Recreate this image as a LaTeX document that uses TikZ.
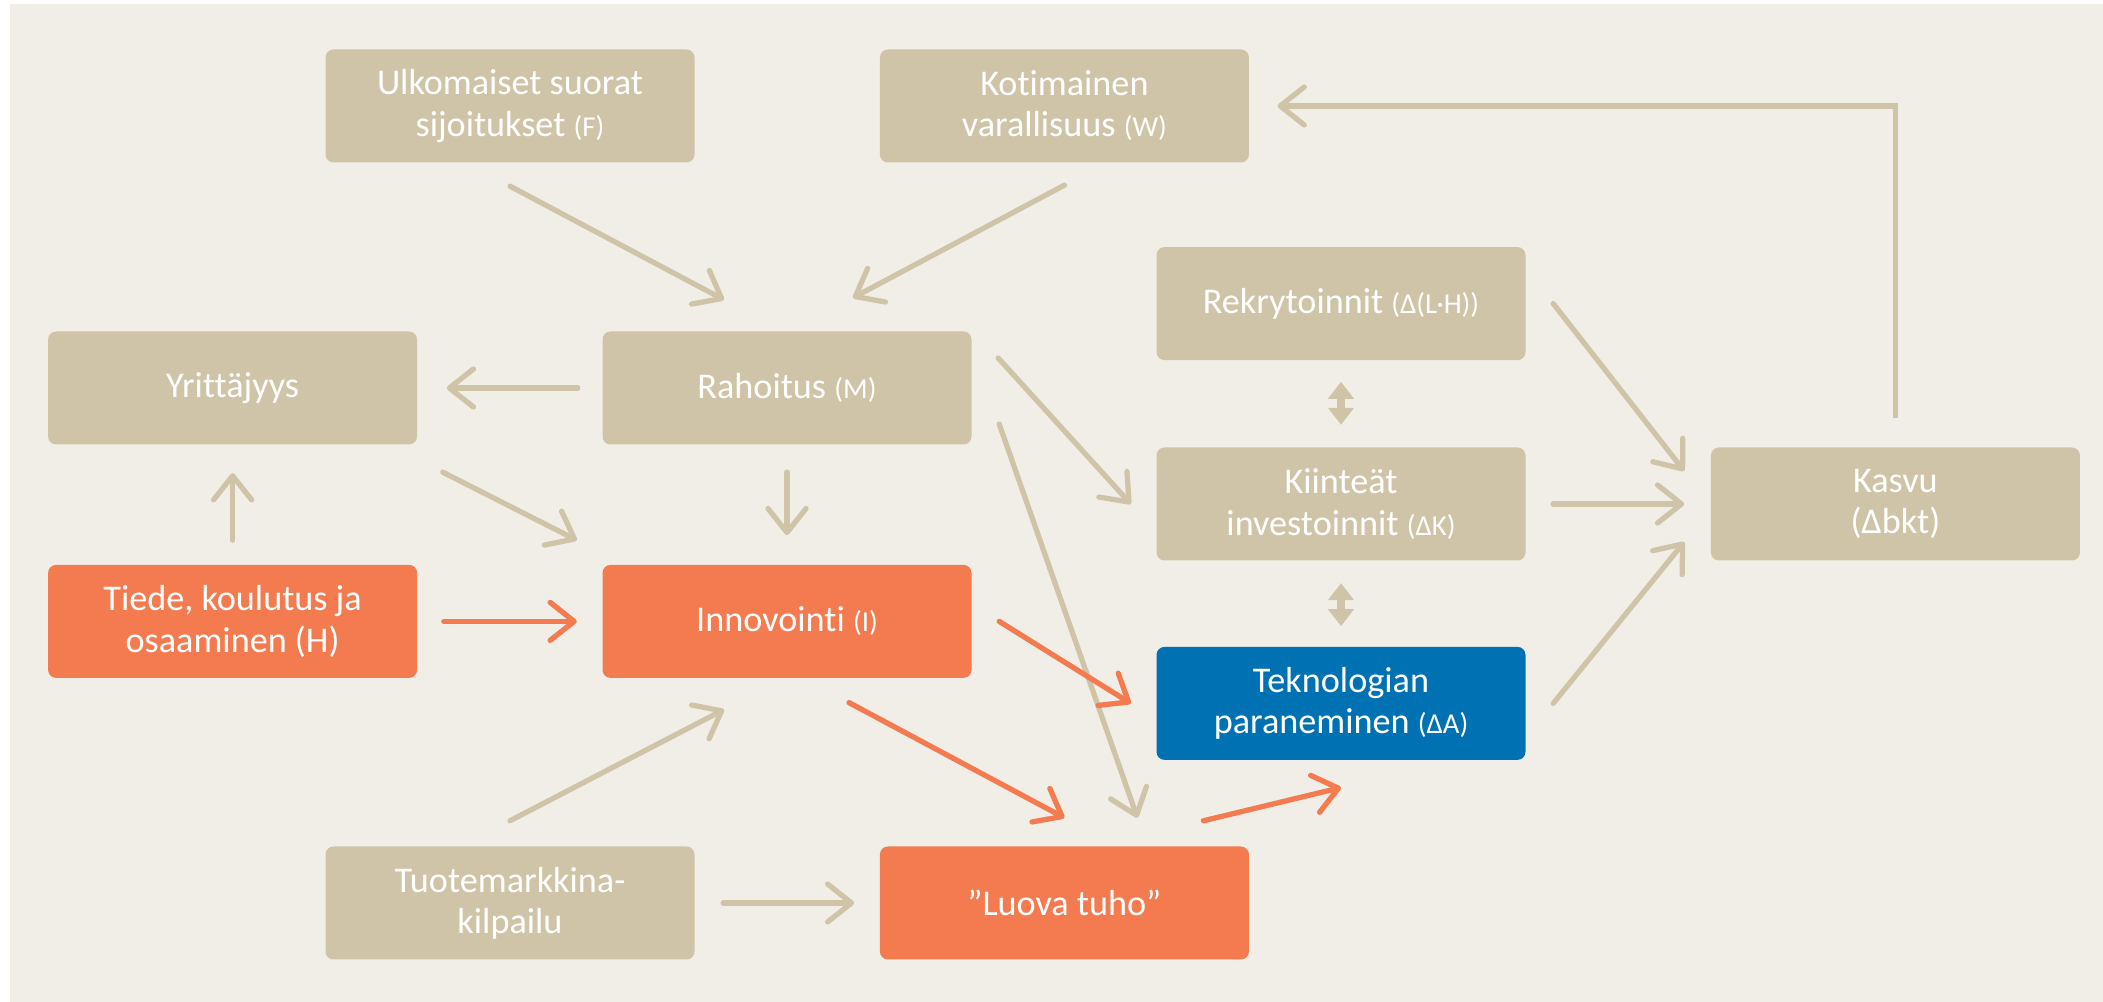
\documentclass[tikz,border=0pt]{standalone}
\usepackage{fontspec}
\setmainfont{Carlito}[Ligatures=NoCommon]
\usetikzlibrary{arrows.meta,positioning,calc}
\definecolor{cbg}{HTML}{F1EEE7}
\definecolor{cbeige}{HTML}{CFC4A8}
\definecolor{corange}{HTML}{F47B50}
\definecolor{cblue}{HTML}{0072B3}
\newcommand{\pv}[1]{{\fontsize{8.2}{10}\selectfont #1}}
\tikzset{
  gbox/.style={rounded corners=0.8mm, align=center, inner sep=0pt,
               minimum width=3.69cm, minimum height=1.13cm, text=white,
               font=\fontsize{10.3}{11.7}\selectfont},
  nbeige/.style={gbox, fill=cbeige},
  norange/.style={gbox, fill=corange},
  nblue/.style={gbox, fill=cblue},
  flow/.style={-{Straight Barb[length=2.4mm,width=3.8mm,round]}, line width=1.5pt,
               line cap=round, draw=cbeige},
  flowo/.style={flow, draw=corange},
  flowb/.style={{Triangle[length=1.7mm,width=2.5mm]}-{Triangle[length=1.7mm,width=2.5mm]},
                line width=2.2pt, draw=cbeige},
}
\begin{document}
\begin{tikzpicture}
  \useasboundingbox (0,0) rectangle (21.03,10.02);
  \fill[cbg] (0.10,0) rectangle (21.03,9.98);
  % left part
  \node[nbeige] (rah) at (7.87,6.14) {Rahoitus \pv{(M)}};
  \node[nbeige, left=1.84cm of rah] (yrit) {Yrittäjyys};
  \node[norange, below=1.19cm of rah] (innov) {Innovointi \pv{(I)}};
  \node[norange, left=1.84cm of innov] (tiede) {Tiede, koulutus ja\\osaaminen (H)};
  \node[nbeige] (f) at (5.10,8.96) {Ulkomaiset suorat\\sijoitukset \pv{(F)}};
  \node[nbeige, right=1.84cm of f] (w) {Kotimainen\\varallisuus \pv{(W)}};
  \node[nbeige] (tuote) at (5.10,0.99) {Tuotemarkkina-\\kilpailu};
  \node[norange, right=1.84cm of tuote] (luova) {”Luova tuho”};
  % right part
  \node[nbeige] (kiint) at (13.41,4.98) {Kiinteät\\investoinnit \pv{(ΔK)}};
  \node[nbeige, above=0.86cm of kiint] (rekry) {Rekrytoinnit \pv{(Δ(L·H))}};
  \node[nblue, below=0.85cm of kiint] (tekno) {Teknologian\\paraneminen \pv{(ΔA)}};
  \node[nbeige, right=1.84cm of kiint] (kasvu) {Kasvu\\(Δbkt)};
  % connectors
  \draw[flow] ([yshift=-0.23cm]f.south) -- ([shift={(-0.63,0.31)}]rah.north);
  \draw[flow] ([yshift=-0.22cm]w.south) -- ([shift={(0.66,0.33)}]rah.north);
  \draw[flow] ([xshift=-0.24cm]rah.west) -- ([xshift=0.29cm]yrit.east);
  \draw[flow] ([yshift=-0.27cm]rah.south) -- ([yshift=0.29cm]innov.north);
  \draw[flow] ([shift={(0.25,-0.27)}]yrit.south east) -- ([shift={(-0.25,0.24)}]innov.north west);
  \draw[flow] ([yshift=0.24cm]tiede.north) -- ([yshift=-0.28cm]yrit.south);
  \draw[flowo] ([xshift=0.26cm]tiede.east) -- ([xshift=-0.25cm]innov.west);
  \draw[flow] ([shift={(0.26,0.30)}]rah.east) -- ([xshift=-0.25cm]kiint.west);
  \draw[flow] ([shift={(0.27,-0.36)}]rah.east) -- ([shift={(0.73,0.28)}]luova.north);
  \draw[flowo] ([xshift=0.27cm]innov.east) -- ([xshift=-0.25cm]tekno.west);
  \draw[flowo] ([shift={(0.62,-0.24)}]innov.south) -- ([yshift=0.28cm]luova.north);
  \draw[flow] ([yshift=0.25cm]tuote.north) -- ([shift={(-0.63,-0.31)}]innov.south);
  \draw[flow] ([xshift=0.28cm]tuote.east) -- ([xshift=-0.25cm]luova.west);
  \draw[flowo] ([shift={(1.39,0.25)}]luova.north) -- ([yshift=-0.27cm]tekno.south);
  \draw[flow] ([xshift=0.27cm]rekry.east) -- ([shift={(-0.26,0.33)}]kasvu.west);
  \draw[flow] ([xshift=0.27cm]kiint.east) -- ([xshift=-0.26cm]kasvu.west);
  \draw[flow] ([xshift=0.27cm]tekno.east) -- ([shift={(-0.26,-0.38)}]kasvu.west);
  \draw[flow, line cap=butt] ([yshift=0.29cm]kasvu.north) |- ([xshift=0.28cm]w.east);
  \draw[flowb] ([yshift=-0.21cm]rekry.south) -- ([yshift=0.22cm]kiint.north);
  \draw[flowb] ([yshift=-0.22cm]kiint.south) -- ([yshift=0.20cm]tekno.north);
\end{tikzpicture}
\end{document}
